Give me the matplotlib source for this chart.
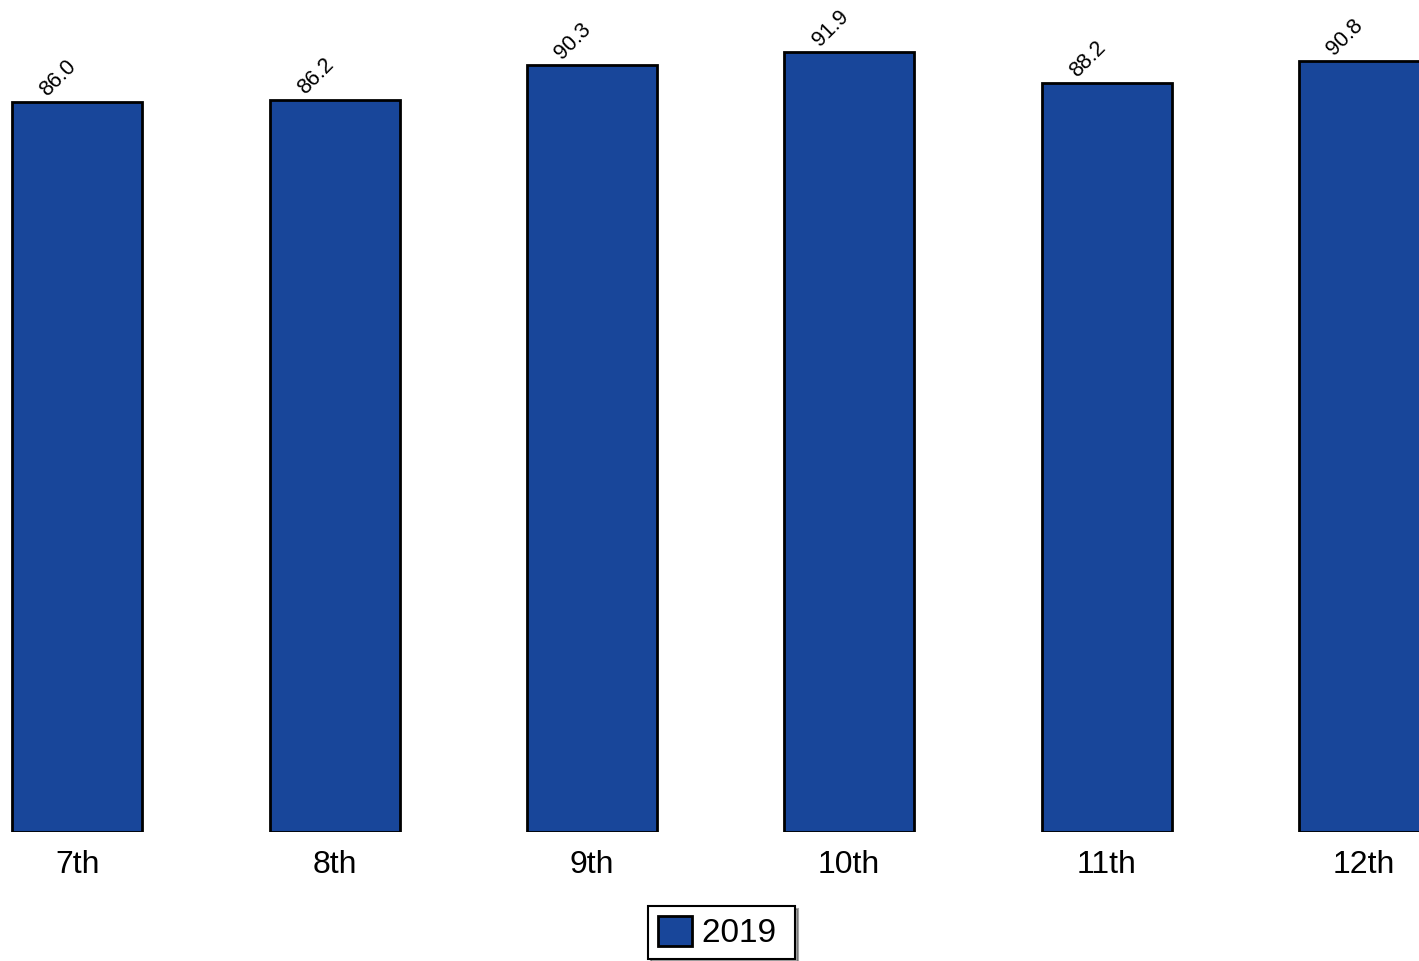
import matplotlib.pyplot as plt

plt.rcParams['font.family'] = ['Liberation Sans', 'DejaVu Sans']

grades = ['7th', '8th', '9th', '10th', '11th', '12th']
values_2019 = [86.0, 86.2, 90.3, 91.9, 88.2, 90.8]
series_name = '2019'
bar_color = '#18469a'

fig = plt.figure(figsize=(14.19, 9.61), dpi=100)
ax = fig.add_axes([0, 129 / 961, 1, 832 / 961])

x = list(range(len(grades)))
bars = ax.bar(x, values_2019, width=0.505, color=bar_color, edgecolor='black',
              linewidth=2, label=series_name, zorder=2)

for xi, v in zip(x, values_2019):
    ax.text(xi - 0.115, v + 0.6, f'{v:.1f}', rotation=45, rotation_mode='anchor',
            ha='left', va='baseline', fontsize=15.5)

ax.set_xlim(-0.3, 5.214)
ax.set_ylim(0, 98)
ax.set_xticks(x)
ax.set_xticklabels(grades, fontsize=23)
ax.tick_params(axis='x', length=0, pad=13)
ax.set_yticks([])
for s in ax.spines.values():
    s.set_visible(False)

leg = fig.legend(handles=[bars], labels=[series_name + ' '], loc='lower center',
                 bbox_to_anchor=(0.5085, 0.002), fontsize=24, frameon=True,
                 fancybox=False, shadow=True, edgecolor='black', framealpha=1,
                 handlelength=1.0, handleheight=1.0, handletextpad=0.3,
                 borderpad=0.3, borderaxespad=0.0)
leg.get_frame().set_linewidth(1.5)

fig.savefig('out.png', dpi=100)
